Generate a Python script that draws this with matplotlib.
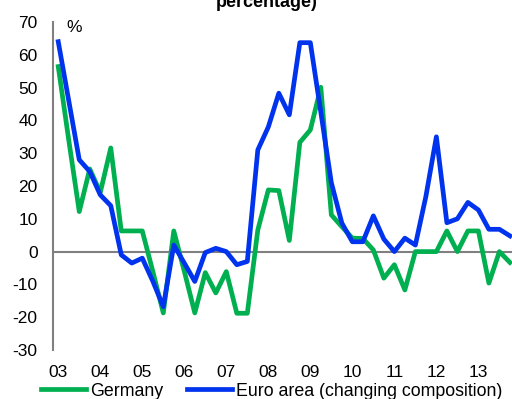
import matplotlib
matplotlib.use("Agg")
import matplotlib.pyplot as plt
import numpy as np

plt.rcParams['font.family'] = ['Liberation Sans', 'DejaVu Sans']

years = ["03", "04", "05", "06", "07", "08", "09", "10", "11", "12", "13"]
germany = [56.4, 34, 12.2, 25.2, 18, 31.6, 6.3, 6.3, 6.3, -6, -18.7, 6.3, -6, -18.7,
           -6.4, -12.6, -6.1, -18.8, -18.8, 6.6, 18.8, 18.6, 3.4, 33.3, 37.1, 50.1,
           11.2, 7.6, 4.1, 4, 0.5, -8.1, -4, -11.7, 0, 0, 0, 6.3, 0, 6.3, 6.3, -9.6,
           0, -3.3]
euro_area = [64, 46, 28, 24.4, 17.3, 14, -1, -3.5, -2, -9, -16.8, 2, -3.5, -9.1,
             -0.3, 1, 0, -4, -3, 31, 38, 48.3, 41.7, 63.7, 63.7, 42.5, 21, 8.7, 3,
             3, 10.9, 3.8, 0, 4.1, 2, 16.8, 35, 8.8, 10, 15, 12.7, 6.8, 6.8, 4.8]
yticks = [-30, -20, -10, 0, 10, 20, 30, 40, 50, 60, 70]

green = '#00B050'
blue = '#0033EE'

fig = plt.figure(figsize=(5.12, 3.99), dpi=100)
ax = fig.add_axes([53/512, 1-350/399, 1-53/512, (350-22)/399])

x = np.arange(len(germany))
ax.axhline(0, color='#808080', lw=1.5, zorder=1)
l1, = ax.plot(x, germany, color=green, lw=3.4, label='Germany', zorder=2)
l2, = ax.plot(x, euro_area, color=blue, lw=3.4, label='Euro area (changing composition)', zorder=3)

ax.set_xlim(-0.5, 43.2)
ax.set_ylim(-30, 70)
ax.set_yticks(yticks)
ax.set_yticklabels([str(v) for v in yticks])
ax.set_xticks(np.arange(len(years)) * 4)
ax.set_xticklabels(years)
ax.tick_params(axis='both', length=0, labelsize=12.5, colors='black')
ax.tick_params(axis='y', pad=11)
ax.tick_params(axis='x', pad=11)
for s in ['top', 'right', 'bottom']:
    ax.spines[s].set_visible(False)
ax.spines['left'].set_color('#808080')
ax.spines['left'].set_linewidth(1.5)

ax.text(74/512, 1-27/399, '%', transform=fig.transFigure, ha='center', va='center', fontsize=12.5)
fig.text(267/512, 1-7/399, 'percentage)', ha='center', va='baseline', fontsize=13, fontweight='bold')

fig.legend(handles=[l1, l2], loc='center', bbox_to_anchor=(272/512, 1-391/399),
           ncol=2, frameon=False, fontsize=12.8, handlelength=2.5,
           handletextpad=0.25, columnspacing=1.35, borderaxespad=0, borderpad=0)

fig.savefig('out.png', dpi=100)
